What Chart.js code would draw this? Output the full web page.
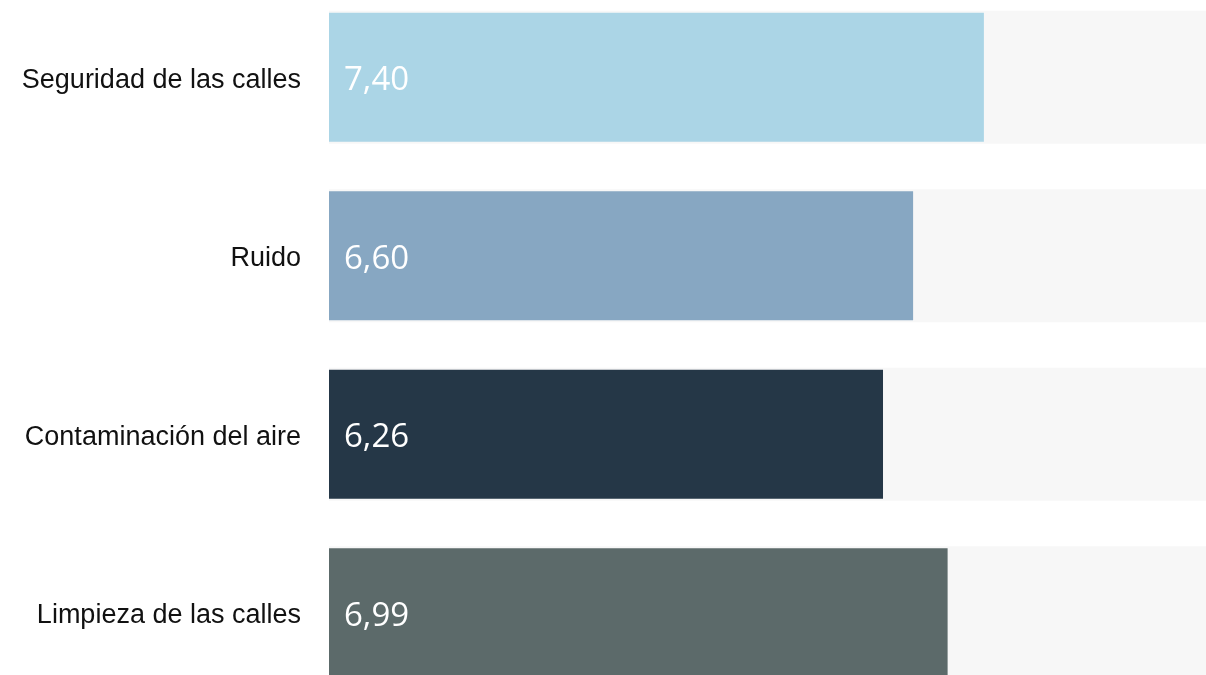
<!DOCTYPE html>
<html>
<head>
<meta charset="utf-8">
<script src="https://cdn.jsdelivr.net/npm/chart.js@4/dist/chart.umd.min.js"></script>
<style>
html,body{margin:0;padding:0;background:#fff;width:1206px;height:675px;overflow:hidden;position:relative;}
#c{position:absolute;left:0;top:-12px;}
</style>
</head>
<body>
<canvas id="c" width="1214" height="714" style="width:1214px;height:714px;"></canvas>
<script>
const categories = ["Seguridad de las calles", "Ruido", "Contaminación del aire", "Limpieza de las calles"];
const values = [7.40, 6.60, 6.26, 6.99];
const maxValue = [10, 10, 10, 10];
const barColors = ["#abd5e6", "#87a7c2", "#253747", "#5c6a6a"];
const trackColor = "#f7f7f7";

const valueLabels = {
  id: 'valueLabels',
  afterDatasetsDraw(chart) {
    const ctx = chart.ctx;
    const meta = chart.getDatasetMeta(1);
    ctx.save();
    ctx.font = '33px "Open Sans"';
    ctx.fillStyle = '#ffffff';
    ctx.textAlign = 'left';
    ctx.textBaseline = 'alphabetic';
    meta.data.forEach((bar, i) => {
      const txt = values[i].toFixed(2).replace('.', ',');
      ctx.fillText(txt, bar.base + 15, bar.y + 13);
    });
    ctx.restore();
  }
};

new Chart(document.getElementById('c'), {
  type: 'bar',
  data: {
    labels: categories,
    datasets: [
      {
        data: maxValue,
        backgroundColor: trackColor,
        borderWidth: 0,
        grouped: false,
        categoryPercentage: 1,
        barPercentage: 0.745,
        order: 2
      },
      {
        data: values,
        backgroundColor: barColors,
        borderWidth: 0,
        grouped: false,
        categoryPercentage: 1,
        barPercentage: 0.723,
        order: 1
      }
    ]
  },
  options: {
    indexAxis: 'y',
    responsive: false,
    animation: false,
    layout: { padding: 0 },
    plugins: { legend: { display: false }, tooltip: { enabled: false } },
    scales: {
      x: { display: false, min: 0, max: 10 },
      y: {
        grid: { display: false, drawTicks: false },
        border: { display: false },
        ticks: {
          padding: 28,
          labelOffset: 3,
          color: '#111111',
          font: { family: '"Liberation Sans", Arial, sans-serif', size: 27 }
        },
        afterFit(scale) { scale.width = 329; scale.paddingTop = 0; scale.paddingBottom = 0; }
      }
    }
  },
  plugins: [valueLabels]
});
</script>
</body>
</html>
